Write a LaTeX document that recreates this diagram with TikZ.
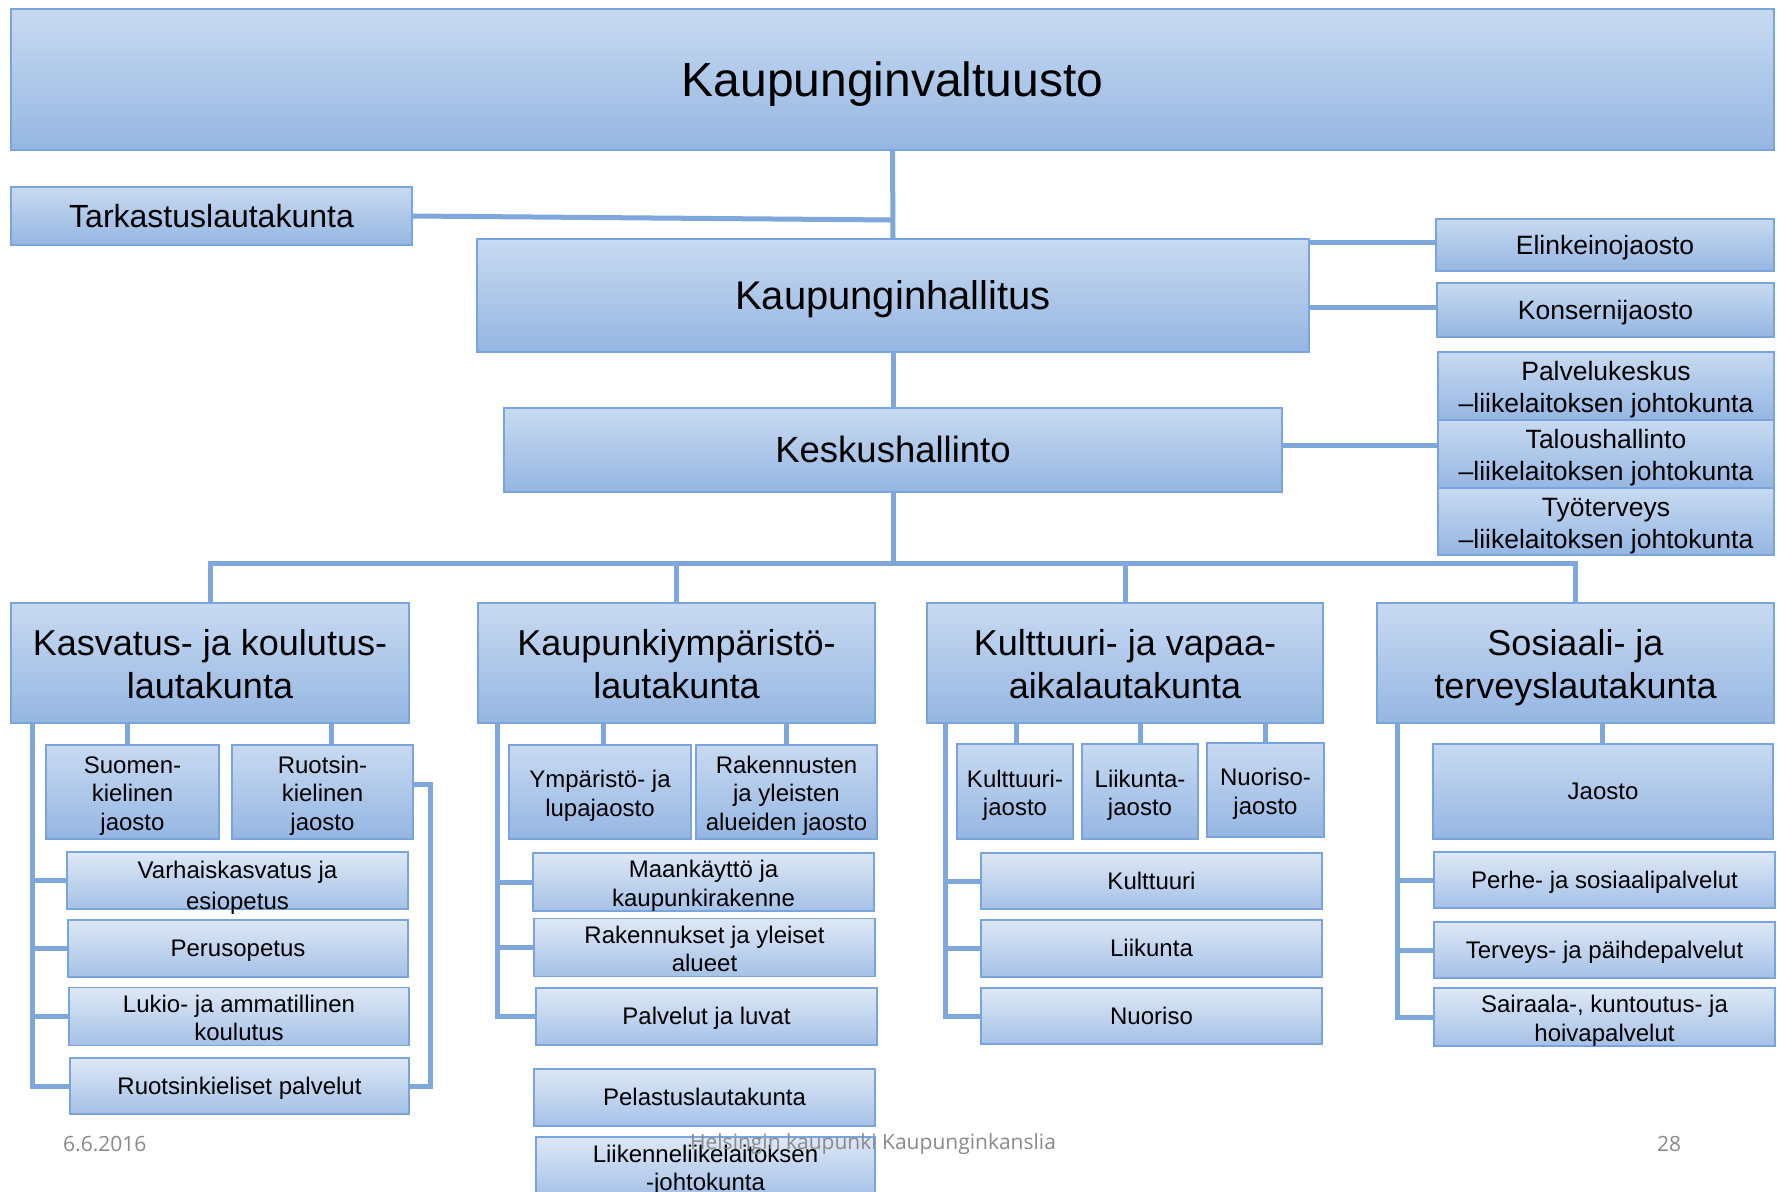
\documentclass[tikz,border=0pt]{standalone}
\usepackage{fontspec}
\setmainfont{Liberation Sans}
\newfontfamily\footfont{Open Sans}
\usetikzlibrary{calc}
\pgfdeclarelayer{background}
\pgfsetlayers{background,main}
\definecolor{conncol}{HTML}{7FA7DB}
\definecolor{bord}{HTML}{7AA4DD}
\definecolor{topA}{HTML}{C8DAF1}
\definecolor{botA}{HTML}{95B6E2}
\definecolor{topB}{HTML}{DEE8F6}
\definecolor{botB}{HTML}{A5C1E7}
\definecolor{footcol}{HTML}{8A8A8A}
\newcommand\ppstrut{\rule[-0.212em]{0pt}{1.117em}}
\newcommand\fl{\rule{0pt}{\dimexpr0.905em+3pt\relax}}
\tikzset{
  pstrut/.style={execute at begin node=\ppstrut, execute at end node=\ppstrut},
  hbox/.style={draw=bord, line width=1.5pt, top color=topA, bottom color=botA,
    inner sep=0pt, outer sep=0pt, align=center, text=black, pstrut},
  lbox/.style={hbox, top color=topB, bottom color=botB},
  conn/.style={draw=conncol, line width=5pt},
  fA/.style={font=\fontsize{48}{58}\selectfont},
  fB/.style={font=\fontsize{40}{48}\selectfont},
  fC/.style={font=\fontsize{36}{43}\selectfont},
  fK/.style={font=\fontsize{36.5}{44}\selectfont},
  fD/.style={font=\fontsize{32}{38}\selectfont},
  fE/.style={font=\fontsize{26.5}{31.8}\selectfont},
  fF/.style={font=\fontsize{26.5}{31}\selectfont},
  fG/.style={font=\fontsize{24}{28.5}\selectfont},
  footst/.style={font=\footfont\fontsize{21}{25}\selectfont, text=footcol, inner sep=0pt},
}
\newcommand\bx[7]{\node[#6, minimum width={(#4-#2)*1pt}, minimum height={(#5-#3)*1pt}] (#1) at ({(#2+#4)/2},{(#3+#5)/2}) {#7};}
\begin{document}
\begin{tikzpicture}[x=1pt,y=-1pt]
\clip (0,0) rectangle (1777,1191);
\begin{pgfonlayer}{background}
\fill[white] (0,0) rectangle (1777,1191);
\end{pgfonlayer}
% top part
\bx{kv}{11}{9}{1774}{150}{hbox,fA}{Kaupunginvaltuusto}
\bx{tark}{11}{187}{412}{245}{hbox,fD}{Tarkastuslautakunta}
\bx{kh}{477}{239}{1309}{352}{hbox,fB}{Kaupunginhallitus}
\bx{elink}{1436}{219}{1774}{271}{hbox,fF}{Elinkeinojaosto}
\bx{kons}{1437}{283}{1774}{337}{hbox,fF}{Konsernijaosto}
\bx{palv}{1438}{352}{1774}{420}{hbox,fE}{\fl Palvelukeskus\\–liikelaitoksen johtokunta}
\bx{talo}{1438}{420}{1774}{488}{hbox,fE}{\fl Taloushallinto\\–liikelaitoksen johtokunta}
\bx{tyo}{1438}{488}{1774}{555}{hbox,fE}{\fl Työterveys\\–liikelaitoksen johtokunta}
\bx{ksh}{504}{408}{1282}{492}{hbox,fK}{Keskushallinto}
% lautakunnat
\bx{kas}{11}{603}{409}{723}{hbox,fC}{\fl Kasvatus- ja koulutus-\\lautakunta}
\bx{kyp}{478}{603}{875}{723}{hbox,fC}{\fl Kaupunkiympäristö-\\lautakunta}
\bx{kul}{927}{603}{1323}{723}{hbox,fC}{\fl Kulttuuri- ja vapaa-\\aikalautakunta}
\bx{sos}{1377}{603}{1774}{723}{hbox,fC}{\fl Sosiaali- ja\\terveyslautakunta}
% Kasvatus column
\bx{suo}{46}{745}{219}{839}{hbox,fG}{\fl Suomen-\\kielinen\\jaosto}
\bx{ruo}{232}{745}{413}{839}{hbox,fG}{\fl Ruotsin-\\kielinen\\jaosto}
\bx{varh}{67}{852}{408}{909}{lbox,fG}{}
\node[fG, align=center, inner sep=0pt, pstrut] (varht) at ($(varh.center)+(0,7.5)$) {Varhaiskasvatus ja\\[2.5pt]esiopetus};
\bx{perus}{68}{920}{408}{977}{lbox,fG}{Perusopetus}
\bx{lukio}{69}{988}{409}{1045}{lbox,fG}{\fl Lukio- ja ammatillinen\\koulutus}
\bx{rkp}{70}{1058}{409}{1114}{lbox,fG}{Ruotsinkieliset palvelut}
% Kaupunkiympäristö column
\bx{ymp}{509}{745}{691}{839}{hbox,fG}{\fl Ympäristö- ja\\lupajaosto}
\bx{rak}{696}{745}{877}{839}{hbox,fG}{\fl Rakennusten\\ja yleisten\\alueiden jaosto}
\bx{maa}{533}{854}{874}{910}{lbox,fG}{\fl Maankäyttö ja\\kaupunkirakenne}
\bx{raky}{534}{919}{875}{976}{lbox,fG}{\fl Rakennukset ja yleiset\\alueet}
\bx{plv}{536}{988}{877}{1045}{lbox,fG}{Palvelut ja luvat}
\bx{pel}{534}{1069}{875}{1126}{lbox,fG}{Pelastuslautakunta}
\bx{lii}{536}{1137}{875}{1196}{lbox,fG}{\fl Liikenneliikelaitoksen\\-johtokunta}
% Kulttuuri column
\bx{kj}{957}{744}{1073}{839}{hbox,fG}{\fl Kulttuuri-\\jaosto}
\bx{lj}{1082}{744}{1198}{839}{hbox,fG}{\fl Liikunta-\\jaosto}
\bx{nj}{1207}{743}{1324}{837}{hbox,fG}{\fl Nuoriso-\\jaosto}
\bx{ku}{981}{853}{1322}{909}{lbox,fG}{Kulttuuri}
\bx{li}{981}{920}{1322}{977}{lbox,fG}{Liikunta}
\bx{nu}{981}{988}{1322}{1044}{lbox,fG}{Nuoriso}
% Sosiaali column
\bx{ja}{1433}{744}{1773}{839}{hbox,fG}{Jaosto}
\bx{pe}{1434}{852}{1775}{908}{lbox,fG}{Perhe- ja sosiaalipalvelut}
\bx{te}{1434}{922}{1775}{978}{lbox,fG}{Terveys- ja päihdepalvelut}
\bx{sa}{1434}{989}{1775}{1045}{lbox,fG}{\fl Sairaala-, kuntoutus- ja\\hoivapalvelut}
% coordinates
\coordinate (tj) at (893,220);
\coordinate (bus) at (893,563);
\coordinate (kasL) at (32,723);
\coordinate (kypL) at (497,723);
\coordinate (kulL) at (945,723);
\coordinate (sosL) at (1397,723);
\coordinate (d1) at (127,0);
\coordinate (d2) at (331,0);
\coordinate (d3) at (603,0);
\coordinate (d4) at (786,0);
\coordinate (d5) at (1016,0);
\coordinate (d6) at (1140,0);
\coordinate (d7) at (1265,0);
\coordinate (d8) at (1602,0);
\begin{pgfonlayer}{background}
% trunk
\draw[conn] (kv.south) -- (kh.north);
\draw[conn] (kh.south) -- (ksh.north);
\draw[conn] (ksh.south) -- (bus);
\draw[conn] (tark.east) -- (tj);
\draw[conn] (kh.east |- 0,242) -- (elink.west |- 0,242);
\draw[conn] (kh.east |- 0,307) -- (kons.west |- 0,307);
\draw[conn] (ksh.east |- 0,445) -- (talo.west |- 0,445);
% bus
\draw[conn] (kas.north) -- (kas.north |- bus) -- (sos.north |- bus) -- (sos.north);
\draw[conn] (kyp.north |- bus) -- (kyp.north);
\draw[conn] (kul.north |- bus) -- (kul.north);
% Kasvatus
\draw[conn] (kas.south -| d1) -- (suo.north -| d1);
\draw[conn] (kas.south -| d2) -- (ruo.north -| d2);
\draw[conn] (kasL) |- (rkp.west);
\draw[conn] (kasL |- varh.west) -- (varh.west);
\draw[conn] (kasL |- perus.west) -- (perus.west);
\draw[conn] (kasL |- lukio.west) -- (lukio.west);
\draw[conn] ($(ruo.east)+(0,-8)$) -- ++(17,0) |- (rkp.east);
% Kaupunkiympäristö
\draw[conn] (kyp.south -| d3) -- (ymp.north -| d3);
\draw[conn] (kyp.south -| d4) -- (rak.north -| d4);
\draw[conn] (kypL) |- (plv.west);
\draw[conn] (kypL |- maa.west) -- (maa.west);
\draw[conn] (kypL |- raky.west) -- (raky.west);
% Kulttuuri
\draw[conn] (kul.south -| d5) -- (kj.north -| d5);
\draw[conn] (kul.south -| d6) -- (lj.north -| d6);
\draw[conn] (kul.south -| d7) -- (nj.north -| d7);
\draw[conn] (kulL) |- (nu.west);
\draw[conn] (kulL |- ku.west) -- (ku.west);
\draw[conn] (kulL |- li.west) -- (li.west);
% Sosiaali
\draw[conn] (sos.south -| d8) -- (ja.north -| d8);
\draw[conn] (sosL) |- (sa.west);
\draw[conn] (sosL |- pe.west) -- (pe.west);
\draw[conn] (sosL |- te.west) -- (te.west);
\end{pgfonlayer}
% footer
\node[footst, anchor=west] (date) at (63,1144) {6.6.2016};
\node[footst] (org) at (873,1144) {Helsingin kaupunki Kaupunginkanslia};
\node[footst] (page) at (1669,1144) {28};
\end{tikzpicture}
\end{document}
